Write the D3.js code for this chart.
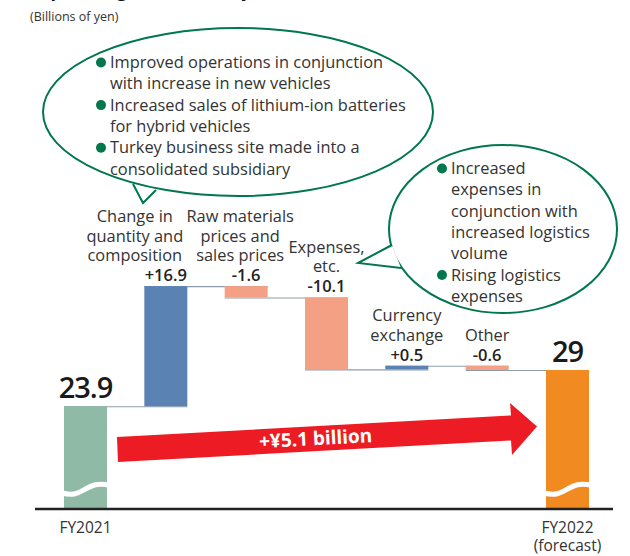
<!DOCTYPE html>
<html>
<head>
<meta charset="utf-8">
<script src="https://cdn.jsdelivr.net/npm/d3@7/dist/d3.min.js"></script>
<style>
  body { margin: 0; background: #fff; }
  svg text { font-family: "Open Sans", "Noto Sans", sans-serif; }
</style>
</head>
<body>
<svg class="wf" width="630" height="556"></svg>
<script>
// data
var categories = ["FY2021", "qty", "raw", "exp", "fx", "other", "FY2022"];
var startValue = 23.9;
var deltas = [16.9, -1.6, -10.1, 0.5, -0.6];
var endValue = 29;
var deltaLabels = ["+16.9", "-1.6", "-10.1", "+0.5", "-0.6"];
var catLabels = [
  ["Change in", "quantity and", "composition"],
  ["Raw materials", "prices and", "sales prices"],
  ["Expenses,", "etc."],
  ["Currency", "exchange"],
  ["Other"]
];
var totalLabels = [["FY2021"], ["FY2022", "(forecast)"]];
var arrowLabel = "+¥5.1 billion";
var bubble1 = [
  ["Improved operations in conjunction", "with increase in new vehicles"],
  ["Increased sales of lithium-ion batteries", "for hybrid vehicles"],
  ["Turkey business site made into a", "consolidated subsidiary"]
];
var bubble2 = [
  ["Increased", "expenses in", "conjunction with", "increased logistics", "volume"],
  ["Rising logistics", "expenses"]
];

var colGreen = "#8fbaa6", colBlue = "#5a83b4", colSalmon = "#f4a084",
  colOrange = "#f28a22", colRed = "#ed1c24", colBubble = "#00774c", colText = "#333";
var fs = 16.4;

var svg = d3.select(".wf");

var x = d3.scaleBand().domain(categories).range([64, 589]).paddingInner(0.465).paddingOuter(0);
var y = d3.scaleLinear().domain([9.45, endValue]).range([509, 370]);

// build waterfall steps
var steps = [];
var run = startValue;
steps.push({ key: categories[0], y0: y.domain()[0], y1: startValue, color: colGreen, total: true });
deltas.forEach(function(d, i) {
  steps.push({ key: categories[i + 1], y0: run, y1: run + d, color: d >= 0 ? colBlue : colSalmon, total: false, label: deltaLabels[i], cat: catLabels[i] });
  run = run + d;
});
steps.push({ key: categories[6], y0: y.domain()[0], y1: endValue, color: colOrange, total: true });

// title, cut off at the top edge in the original
svg.append("text").attr("x", 30).attr("y", -3).attr("font-size", 18).attr("font-weight", 700)
  .attr("fill", "#111").text("(Operating income analysis)");

svg.append("text").attr("x", 30).attr("y", 21).attr("font-size", 12.5).attr("fill", colText)
  .text("(Billions of yen)");

// connector lines
var levels = [startValue];
var acc = startValue;
deltas.forEach(function(d) { acc += d; levels.push(acc); });
svg.append("g").selectAll("line").data(levels).enter().append("line")
  .attr("x1", function(d, i) { return x(categories[i]); })
  .attr("x2", function(d, i) { return x(categories[i + 1]) + x.bandwidth(); })
  .attr("y1", function(d) { return y(d) + 0.5; })
  .attr("y2", function(d) { return y(d) + 0.5; })
  .attr("stroke", "#8d9cab").attr("stroke-width", 1.2);

// bars
svg.append("g").selectAll("rect").data(steps).enter().append("rect")
  .attr("x", function(d) { return x(d.key); })
  .attr("width", x.bandwidth())
  .attr("y", function(d) { return y(Math.max(d.y0, d.y1)); })
  .attr("height", function(d) { return Math.abs(y(d.y0) - y(d.y1)); })
  .attr("fill", function(d) { return d.color; });

// axis break waves on the total bars
[0, 6].forEach(function(i) {
  var x0 = x(categories[i]) - 2, bw = x.bandwidth() + 4, yb = y.domain()[0];
  var yy = y(yb) - 20;
  var p = d3.path();
  p.moveTo(x0, yy + 4);
  p.bezierCurveTo(x0 + bw * 0.25, yy + 7, x0 + bw * 0.35, yy + 4, x0 + bw * 0.5, yy);
  p.bezierCurveTo(x0 + bw * 0.65, yy - 4, x0 + bw * 0.75, yy - 6, x0 + bw, yy - 4);
  svg.append("path").attr("d", p.toString()).attr("fill", "none")
    .attr("stroke", "#fff").attr("stroke-width", 5);
});

// baseline
svg.append("line").attr("x1", 35).attr("x2", 613)
  .attr("y1", y(y.domain()[0])).attr("y2", y(y.domain()[0]))
  .attr("stroke", "#222").attr("stroke-width", 2.5);

// delta value labels and category labels
var deltaSteps = steps.filter(function(d) { return !d.total; });
var catOffset = [-31, -6, 0, 0, 0];
deltaSteps.forEach(function(d, i) {
  var cx = x(d.key) + x.bandwidth() / 2;
  var topY = y(Math.max(d.y0, d.y1));
  svg.append("text").attr("x", cx).attr("y", topY - 5).attr("text-anchor", "middle")
    .attr("font-size", 16.5).attr("font-weight", 600).attr("fill", "#222").text(d.label);
  var n = d.cat.length;
  d.cat.forEach(function(line, j) {
    svg.append("text").attr("x", cx + catOffset[i]).attr("y", topY - 25 - (n - 1 - j) * 19.5)
      .attr("text-anchor", "middle").attr("font-size", fs).attr("fill", colText).text(line);
  });
});

// totals
[steps[0], steps[6]].forEach(function(d, i) {
  var cx = x(d.key) + x.bandwidth() / 2;
  svg.append("text").attr("x", cx).attr("y", y(d.y1) - 8).attr("text-anchor", "middle")
    .attr("font-size", 29).attr("font-weight", 600).attr("letter-spacing", -1).attr("fill", "#1a1a1a")
    .text(i == 0 ? startValue : endValue);
  totalLabels[i].forEach(function(line, j) {
    svg.append("text").attr("x", cx).attr("y", 533 + j * 17.5).attr("text-anchor", "middle")
      .attr("font-size", 15.5).attr("fill", colText).text(line);
  });
});

// big red arrow from FY2021 to FY2022
var ax0 = x(categories[0]) + x.bandwidth() + 10, ax1 = x(categories[6]) - 9;
var ay0 = 449.5, ay1 = 426.5, half = 12.5, headW = 26, headH = 25;
var slope = (ay1 - ay0) / (ax1 - ax0);
var hb = ax1 - headW;
var hy = ay0 + slope * (hb - ax0);
var arrowPts = [
  [ax0, ay0 - half], [hb, hy - half], [hb - 1, hy - headH], [ax1, ay1],
  [hb + 1, hy + headH + 2], [hb, hy + half], [ax0 + 1, ay0 + half]
];
svg.append("polygon").attr("points", arrowPts.map(function(p) { return p.join(","); }).join(" "))
  .attr("fill", colRed);
var ang = Math.atan(slope) * 180 / Math.PI;
svg.append("text").attr("transform", "translate(316," + (ay0 + slope * (316 - ax0) + 6.5) + ") rotate(" + ang + ")")
  .attr("text-anchor", "middle").attr("font-size", 19).attr("font-weight", 700).attr("fill", "#fff")
  .text(arrowLabel);

// speech bubbles
function bubble(cx, cy, rx, ry, tail, items, tx, ty, lh) {
  var g = svg.append("g");
  g.append("ellipse").attr("cx", cx).attr("cy", cy).attr("rx", rx).attr("ry", ry)
    .attr("fill", "#fff").attr("stroke", colBubble).attr("stroke-width", 2);
  g.append("polygon").attr("points", tail.map(function(p) { return p.join(","); }).join(" "))
    .attr("fill", "#fff").attr("stroke", "none");
  g.append("polyline").attr("points", tail.map(function(p) { return p.join(","); }).join(" "))
    .attr("fill", "none").attr("stroke", colBubble).attr("stroke-width", 2);
  var row = 0;
  items.forEach(function(lines) {
    g.append("circle").attr("cx", tx - 9).attr("cy", ty + row * lh - 5.5).attr("r", 5).attr("fill", colBubble);
    lines.forEach(function(l) {
      g.append("text").attr("x", tx).attr("y", ty + row * lh).attr("font-size", fs)
        .attr("fill", colText).text(l);
      row++;
    });
  });
}

bubble(238, 112, 195, 84, [[133, 184], [143, 203], [156, 190]], bubble1, 110, 68, 21.3);
bubble(503, 229, 114, 84, [[392, 245], [358, 263], [401, 268]], bubble2, 451, 174, 21.3);
</script>
</body>
</html>
